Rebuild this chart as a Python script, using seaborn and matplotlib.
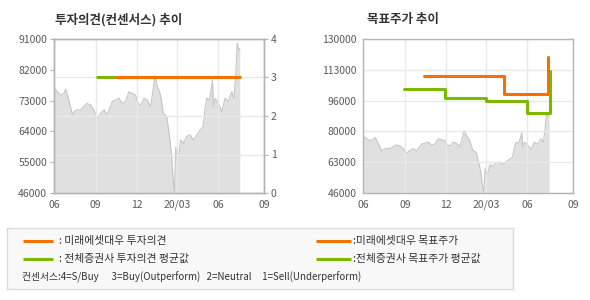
import matplotlib
matplotlib.use('Agg')
import matplotlib.pyplot as plt
from matplotlib.lines import Line2D
import numpy as np
import pandas as pd
import seaborn as sns

# ---------------- data ----------------
price_dates = ['2019-06-01', '2019-06-08', '2019-06-16', '2019-06-23', '2019-06-27', '2019-07-01',
               '2019-07-07', '2019-07-12', '2019-07-16', '2019-07-23', '2019-07-31', '2019-08-06',
               '2019-08-13', '2019-08-22', '2019-08-29', '2019-09-06', '2019-09-13', '2019-09-21',
               '2019-09-27', '2019-10-02', '2019-10-09', '2019-10-17', '2019-10-24', '2019-10-31',
               '2019-11-08', '2019-11-15', '2019-11-23', '2019-11-30', '2019-12-06', '2019-12-12',
               '2019-12-19', '2019-12-26', '2020-01-03', '2020-01-09', '2020-01-12', '2020-01-18',
               '2020-01-24', '2020-01-29', '2020-01-31', '2020-02-08', '2020-02-15', '2020-02-19',
               '2020-02-22', '2020-02-25', '2020-02-28', '2020-03-02', '2020-03-06', '2020-03-10',
               '2020-03-16', '2020-03-23', '2020-03-31', '2020-04-07', '2020-04-15', '2020-04-22',
               '2020-04-29', '2020-05-03', '2020-05-07', '2020-05-13', '2020-05-18', '2020-05-20',
               '2020-05-22', '2020-05-26', '2020-06-02', '2020-06-10', '2020-06-17', '2020-06-24',
               '2020-07-02', '2020-07-07', '2020-07-11', '2020-07-14', '2020-07-18', '2020-07-20']
price_values = [77000, 75600, 74600, 75100, 76300, 74600,
                71700, 68800, 69800, 70300, 70300, 71200,
                72200, 71700, 70300, 67800, 69300, 70300,
                68800, 70300, 72700, 73200, 73700, 72200,
                72700, 75600, 75100, 74600, 72200, 71700,
                73700, 73200, 71200, 77000, 80200, 77000,
                75100, 71200, 69300, 68300, 61500, 56600,
                49800, 46400, 59500, 55600, 57600, 61500,
                60500, 62500, 63000, 61500, 63000, 64400,
                65400, 70300, 73700, 73200, 77000, 79000,
                71200, 73700, 72200, 69800, 73700, 72700,
                75600, 73700, 81000, 89800, 87700, 88200]

opinion_dates_mirae = ['2019-10-15', '2020-07-20']
opinion_values_mirae = [3, 3]
opinion_dates_avg = ['2019-09-02', '2020-07-22']
opinion_values_avg = [3, 3]

target_dates_mirae = ['2019-10-14', '2020-04-10', '2020-07-17']
target_values_mirae = [110000, 100000, 120000]
target_dates_avg = ['2019-09-01', '2019-12-01', '2020-03-01', '2020-06-01', '2020-07-22']
target_values_avg = [103000, 98000, 96000, 89700, 112400]

x_tick_dates = ['2019-06-01', '2019-09-02', '2019-12-03', '2020-03-02', '2020-06-01', '2020-09-12']
x_tick_labels = ['06', '09', '12', '20/03', '06', '09']
left_price_ticks = [46000, 55000, 64000, 73000, 82000, 91000]
opinion_ticks = [0, 1, 2, 3, 4]
right_price_ticks = list(np.linspace(46000, 130000, 6))
right_price_labels = ['46000', '63000', '80000', '96000', '113000', '130000']

title_left = '투자의견(컨센서스) 추이'
title_right = '목표주가 추이'
legend_labels = [': 미래에셋대우 투자의견', ': 전체증권사 투자의견 평균값',
                 ':미래에셋대우 목표주가', ':전체증권사 목표주가 평균값']
legend_note = '컨센서스:4=S/Buy      3=Buy(Outperform)   2=Neutral     1=Sell(Underperform)'

# ---------------- style ----------------
sns.set_theme(style='white')
plt.rcParams['font.family'] = ['Noto Sans CJK KR', 'DejaVu Sans']

ORANGE = '#f47100'
GREEN = '#7cb800'
FILL = '#e0e0e0'
EDGE = '#c6c6c6'
GRID = '#e9e9e9'
SPINE = '#b4b4b4'
TICKC = '#5a5a5a'
LW = 2.2

pdates = pd.to_datetime(price_dates)
xt = pd.to_datetime(x_tick_dates)
xlim = (xt[0], xt[-1])

fig = plt.figure(figsize=(5.9, 3.0), dpi=100)
W, H = 590, 300


def axes_px(x0, y0, x1, y1):
    return fig.add_axes([x0 / W, 1 - y1 / H, (x1 - x0) / W, (y1 - y0) / H])


def style_axes(ax):
    for s in ax.spines.values():
        s.set_color(SPINE)
        s.set_linewidth(1.0)
    ax.tick_params(axis='both', which='major', length=3, width=0.8, color=SPINE,
                   labelsize=7.5, labelcolor=TICKC, pad=2)
    ax.set_xlabel('')
    ax.set_ylabel('')


def price_area(ax, lo):
    ax.fill_between(pdates, price_values, lo, color=FILL, linewidth=0, zorder=1)
    sns.lineplot(x=pdates, y=price_values, ax=ax, color=EDGE, linewidth=0.8, zorder=1.2,
                 legend=False)


# ---------- left chart ----------
axL = axes_px(54, 39, 264, 193)
price_area(axL, left_price_ticks[0])
axL.set_ylim(left_price_ticks[0], left_price_ticks[-1])
axL.set_yticks(left_price_ticks)
axL.set_yticklabels([str(v) for v in left_price_ticks])
axL.set_xlim(*xlim)
axL.set_xticks(xt)
axL.set_xticklabels(x_tick_labels)
axL.set_axisbelow('line')
axL.grid(True, axis='x', color=GRID, linewidth=1.0)
axL.grid(False, axis='y')
style_axes(axL)

axR = axL.twinx()
sns.lineplot(x=pd.to_datetime(opinion_dates_avg), y=opinion_values_avg, ax=axR, color=GREEN,
             linewidth=LW, solid_capstyle='butt', legend=False, zorder=3)
sns.lineplot(x=pd.to_datetime(opinion_dates_mirae), y=opinion_values_mirae, ax=axR, color=ORANGE,
             linewidth=LW, solid_capstyle='butt', legend=False, zorder=4)
axR.set_ylim(opinion_ticks[0], opinion_ticks[-1])
axR.set_yticks(opinion_ticks)
axR.set_yticklabels([str(v) for v in opinion_ticks])
axR.set_xlim(*xlim)
axR.set_axisbelow('line')
axR.grid(True, axis='y', color=GRID, linewidth=1.0)
style_axes(axR)

fig.text(55 / W, 1 - 20 / H, title_left, fontsize=9, fontweight='bold', color='#333333',
         ha='left', va='center')

# ---------- right chart ----------
ax2 = axes_px(363.3, 39, 573.3, 193)
price_area(ax2, right_price_ticks[0])
sns.lineplot(x=pd.to_datetime(target_dates_avg), y=target_values_avg, ax=ax2, color=GREEN,
             linewidth=LW, drawstyle='steps-post', legend=False, zorder=3)
sns.lineplot(x=pd.to_datetime(target_dates_mirae), y=target_values_mirae, ax=ax2, color=ORANGE,
             linewidth=LW, drawstyle='steps-post', legend=False, zorder=4)
ax2.set_ylim(right_price_ticks[0], right_price_ticks[-1])
ax2.set_yticks(right_price_ticks)
ax2.set_yticklabels(right_price_labels)
ax2.set_xlim(*xlim)
ax2.set_xticks(xt)
ax2.set_xticklabels(x_tick_labels)
ax2.set_axisbelow('line')
ax2.grid(True, color=GRID, linewidth=1.0)
style_axes(ax2)

fig.text(367 / W, 1 - 20 / H, title_right, fontsize=9, fontweight='bold', color='#333333',
         ha='left', va='center')

# ---------- legend box ----------
axLeg = axes_px(7, 228, 513, 289)
axLeg.set_xlim(0, 506)
axLeg.set_ylim(61, 0)
axLeg.set_xticks([])
axLeg.set_yticks([])
axLeg.set_facecolor('#f8f8f8')
for s in axLeg.spines.values():
    s.set_color('#dcdcdc')
    s.set_linewidth(1.0)

rows = [(16, 46, 52, 12.7, ORANGE, legend_labels[0]),
        (16, 46, 52, 30.7, GREEN, legend_labels[1]),
        (309, 344, 346, 12.7, ORANGE, legend_labels[2]),
        (309, 344, 346, 30.7, GREEN, legend_labels[3])]
for x0, x1, tx, y, c, lab in rows:
    axLeg.add_line(Line2D([x0, x1], [y, y], color=c, linewidth=LW, solid_capstyle='butt'))
    axLeg.text(tx, y, lab, fontsize=7.8, color='#333333', ha='left', va='center')
axLeg.text(15.5, 49.5, legend_note, fontsize=7.0, color='#333333', ha='left', va='center')

fig.savefig('out.png', dpi=100)
